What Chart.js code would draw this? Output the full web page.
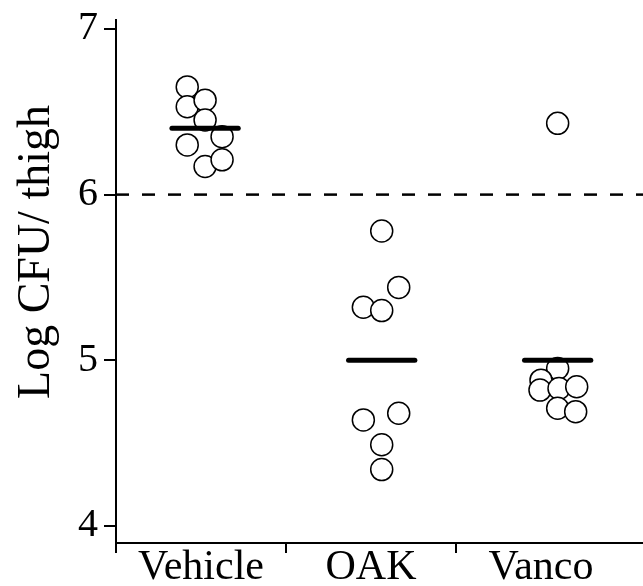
<!DOCTYPE html>
<html lang="en">
<head>
<meta charset="UTF-8" />
<title>Log CFU / thigh</title>
<script src="https://cdn.jsdelivr.net/npm/chart.js"></script>
<style>
  body { margin: 0; background: #fff; }
  #wrap { width: 643px; height: 586px; }
</style>
</head>
<body>
<div id="wrap"><canvas id="chart" width="643" height="586"></canvas></div>
<script>
// groups shown on the x axis
const groups = ['Vehicle', 'OAK', 'Vanco'];
// where each column of dots sits (x units, one unit per group)
const groupX = [0.524, 1.563, 2.598];

// Log CFU per thigh
const vehicle = [6.65, 6.53, 6.57, 6.45, 6.35, 6.30, 6.17, 6.21];
const oak     = [5.78, 5.44, 5.32, 5.30, 4.64, 4.68, 4.49, 4.34];
const vanco   = [6.43, 4.95, 4.88, 4.82, 4.83, 4.84, 4.71, 4.69];

// sideways spread of the dots inside each column
const vehicleJitter = [-0.105, -0.105, 0, 0, 0.1, -0.105, 0, 0.1];
const oakJitter     = [0, 0.1, -0.108, 0, -0.108, 0.1, 0, 0];
const vancoJitter   = [0, 0, -0.098, -0.104, 0.008, 0.112, 0, 0.106];

// group means (horizontal bars) and the threshold line
const means = [6.40, 5.00, 5.00];
const threshold = 6;

const yTicks = [4, 5, 6, 7];
const yTitle = 'Log CFU/ thigh';

const serif = 'Liberation Serif';
const values = [vehicle, oak, vanco];
const jitters = [vehicleJitter, oakJitter, vancoJitter];
const xMax = 3.1;
const barHalf = 0.195;

const meanSets = means.map((m, i) => ({
  type: 'line',
  data: [{ x: groupX[i] - barHalf, y: m }, { x: groupX[i] + barHalf, y: m }],
  borderColor: '#000',
  borderWidth: 5,
  borderCapStyle: 'round',
  pointRadius: 0,
  order: 0,
}));

const dotSets = values.map((vals, i) => ({
  type: 'scatter',
  data: vals.map((v, j) => ({ x: groupX[i] + jitters[i][j], y: v })),
  pointRadius: 11,
  pointHoverRadius: 11,
  borderWidth: 1.5,
  borderColor: '#000',
  backgroundColor: '#fff',
  order: 1,
}));

const thresholdSet = {
  type: 'line',
  data: [{ x: 0, y: threshold }, { x: xMax, y: threshold }],
  borderColor: '#000',
  borderWidth: 2.5,
  borderDash: [13, 13],
  pointRadius: 0,
  order: 2,
};

// y title sits a bit above the middle of the axis in the original
const yTitlePlugin = {
  id: 'yTitle',
  afterDraw(chart) {
    const ctx = chart.ctx;
    ctx.save();
    ctx.translate(49, 252);
    ctx.rotate(-Math.PI / 2);
    ctx.font = '46px "' + serif + '"';
    ctx.fillStyle = '#000';
    ctx.textAlign = 'center';
    ctx.textBaseline = 'alphabetic';
    ctx.fillText(yTitle, 0, 0);
    ctx.restore();
  },
};

// keep the plot area flush with the canvas edges
function noPadding(s) {
  s.paddingLeft = 0;
  s.paddingRight = 0;
  s.paddingTop = 0;
  s.paddingBottom = 0;
}

new Chart(document.getElementById('chart'), {
  data: { datasets: [...meanSets, ...dotSets, thresholdSet] },
  options: {
    responsive: false,
    animation: false,
    devicePixelRatio: 1,
    layout: { autoPadding: false, padding: { top: 20, right: 0, left: 0, bottom: 0 } },
    plugins: { legend: { display: false }, tooltip: { enabled: false } },
    scales: {
      x: {
        type: 'linear',
        min: 0,
        max: xMax,
        afterBuildTicks: (s) => {
          const t = [];
          groups.forEach((g, i) => { t.push({ value: i }); t.push({ value: i + 0.5 }); });
          s.ticks = t;
        },
        afterFit: (s) => {
          s.height = 43;
          noPadding(s);
        },
        border: { display: true, color: '#000', width: 2 },
        grid: {
          drawOnChartArea: false,
          tickLength: 10,
          lineWidth: 2,
          color: (c) => (c.index % 2 === 0 ? '#000' : 'rgba(0,0,0,0)'),
        },
        ticks: {
          autoSkip: false,
          maxRotation: 0,
          padding: -10,
          color: '#000',
          font: { family: serif, size: 42 },
          callback: (v, i) => (i % 2 === 1 ? groups[(i - 1) / 2] : ''),
        },
      },
      y: {
        type: 'linear',
        min: 3.897,
        max: 7.054,
        afterBuildTicks: (s) => { s.ticks = yTicks.map((v) => ({ value: v })); },
        afterFit: (s) => {
          s.width = 116;
          noPadding(s);
        },
        border: { display: true, color: '#000', width: 2 },
        grid: { drawOnChartArea: false, tickLength: 12, lineWidth: 2, color: '#000' },
        ticks: {
          padding: 6,
          color: '#000',
          font: { family: serif, size: 40 },
        },
      },
    },
  },
  plugins: [yTitlePlugin],
});
</script>
</body>
</html>
